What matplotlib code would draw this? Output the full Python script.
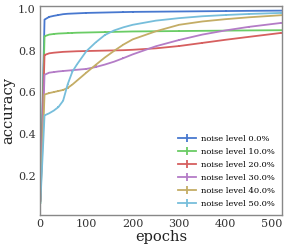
import matplotlib
matplotlib.use("Agg")
import matplotlib.pyplot as plt

# epochs where accuracy was evaluated
epochs = [1, 10, 20, 30, 40, 50, 60, 70, 80, 100, 120, 140, 160, 180,
          200, 250, 300, 350, 400, 450, 520]

acc_0 = [0.09, 0.95, 0.963, 0.968, 0.972, 0.976, 0.978, 0.979, 0.980, 0.982,
         0.983, 0.984, 0.985, 0.986, 0.987, 0.988, 0.989, 0.990, 0.991, 0.992,
         0.993]
acc_10 = [0.07, 0.87, 0.878, 0.881, 0.883, 0.884, 0.885, 0.886, 0.887, 0.888,
          0.889, 0.890, 0.891, 0.892, 0.893, 0.894, 0.895, 0.896, 0.897, 0.898,
          0.899]
acc_20 = [0.08, 0.78, 0.788, 0.791, 0.793, 0.795, 0.796, 0.797, 0.798, 0.799,
          0.800, 0.801, 0.802, 0.803, 0.805, 0.812, 0.823, 0.838, 0.853, 0.867,
          0.886]
acc_30 = [0.08, 0.685, 0.695, 0.698, 0.701, 0.703, 0.705, 0.707, 0.709, 0.713,
          0.722, 0.734, 0.748, 0.765, 0.783, 0.822, 0.852, 0.878, 0.898, 0.915,
          0.934]
acc_40 = [0.08, 0.59, 0.597, 0.602, 0.607, 0.612, 0.622, 0.638, 0.657, 0.695,
          0.732, 0.768, 0.800, 0.830, 0.855, 0.894, 0.925, 0.941, 0.952, 0.961,
          0.971]
acc_50 = [0.07, 0.49, 0.50, 0.513, 0.530, 0.560, 0.640, 0.700, 0.735, 0.798,
          0.840, 0.876, 0.898, 0.913, 0.925, 0.945, 0.957, 0.966, 0.972, 0.977,
          0.982]

# std over runs (only visible at the first point)
yerr = [0.02] + [0.003] * 20

noise_levels = [0.0, 10.0, 20.0, 30.0, 40.0, 50.0]
colors = ["#4878CF", "#6ACC65", "#D65F5F", "#B47CC7", "#C4AD66", "#77BEDB"]

plt.rcParams["font.family"] = "DejaVu Serif"

fig = plt.figure(figsize=(2.87, 2.49), dpi=100)
ax = fig.add_axes([0.139, 0.137, 0.844, 0.837])

series = [acc_0, acc_10, acc_20, acc_30, acc_40, acc_50]
for acc, lvl, col in zip(series, noise_levels, colors):
    ax.errorbar(epochs, acc, yerr=yerr, color=col, lw=1.3, elinewidth=1.3,
                label=f"noise level {lvl}%")

ax.set_xlim(0, 522)
ax.set_ylim(0.012, 1.013)
ax.set_xticks([0, 100, 200, 300, 400, 500])
ax.set_yticks([0.2, 0.4, 0.6, 0.8, 1.0])
ax.tick_params(length=0, labelsize=8, colors="#333333", pad=3)
for s in ax.spines.values():
    s.set_color("#888888")
    s.set_linewidth(1.0)

ax.set_xlabel("epochs", fontsize=10.5, labelpad=1, color="#222222")
ax.set_ylabel("accuracy", fontsize=10.5, labelpad=2, color="#222222")

ax.legend(loc="lower right", fontsize=6, frameon=False, borderaxespad=0.4,
          handlelength=2.2, labelspacing=0.6, handletextpad=0.6)

fig.savefig("out.png", dpi=100)
